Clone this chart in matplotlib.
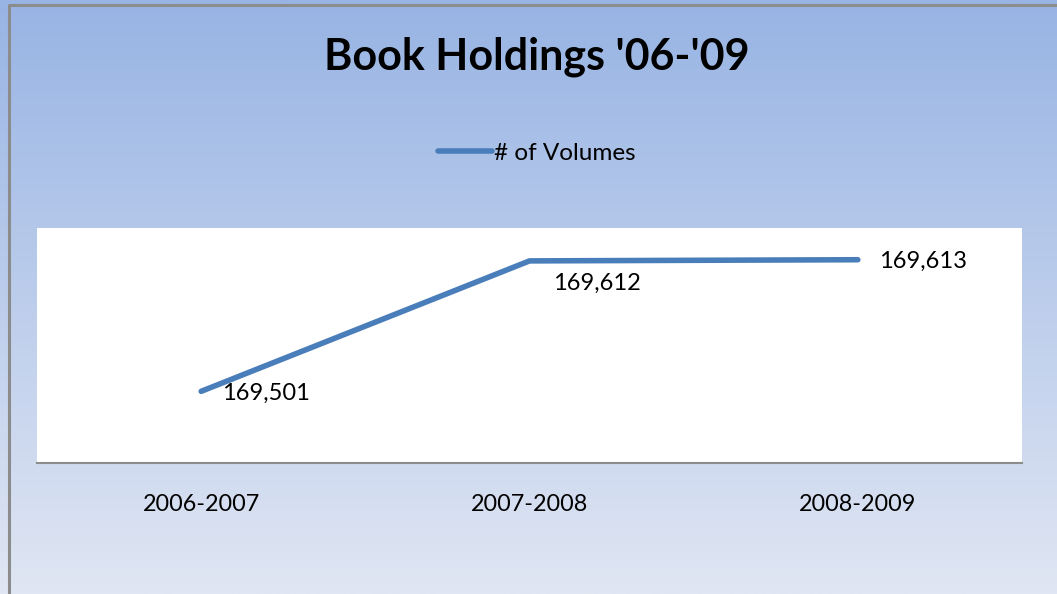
import numpy as np
import matplotlib.pyplot as plt

years = ["2006-2007", "2007-2008", "2008-2009"]
volumes = [169501, 169612, 169613]
label_offsets = [(21, -2), (24, -22), (21, -2)]  # pixels right/up from each point

W, H = 1057, 594
line_color = "#4a7ebb"
plt.rcParams["font.family"] = ["Lato", "DejaVu Sans"]

fig = plt.figure(figsize=(W / 100, H / 100), dpi=100)

# background gradient
bg = fig.add_axes([0, 0, 1, 1], zorder=-10)
grad = np.linspace(0, 1, 256)[:, None]
top = np.array([0x98, 0xb4, 0xe4]) / 255
bot = np.array([0xe0, 0xe6, 0xf3]) / 255
img = top + grad[..., None] * (bot - top)
bg.imshow(img, aspect="auto", extent=[0, W, H, 0])
bg.set_xlim(0, W)
bg.set_ylim(H, 0)
bg.axis("off")
bg.plot([9, 9, W + 5], [H + 5, 5, 5], color="#8c8c8c", lw=2.2, solid_capstyle="butt")

# plot area: x 37..1022, y 228..463
ax = fig.add_axes([37 / W, 1 - 463 / H, (1022 - 37) / W, (463 - 228) / H])
ax.set_facecolor("white")
x = np.arange(len(years))
ln, = ax.plot(x, volumes, color=line_color, lw=4, solid_capstyle="round", label="# of Volumes")
ax.set_xlim(-0.5, 2.5)
ax.set_ylim(169440, 169640)
ax.set_yticks([])
ax.set_xticks(x)
ax.set_xticklabels(years, fontsize=16.8)
ax.tick_params(axis="x", length=0, pad=22.5)
for s in ["top", "left", "right"]:
    ax.spines[s].set_visible(False)
ax.spines["bottom"].set_color("#8c8c8c")
ax.spines["bottom"].set_linewidth(1.5)

for xi, v, (dx, dy) in zip(x, volumes, label_offsets):
    ax.annotate(f"{v:,}", (xi, v), xytext=(dx * 0.72, dy * 0.72), textcoords="offset points",
                ha="left", va="center", fontsize=17)

fig.text(537 / W, 1 - 57 / H, "Book Holdings '06-'09", ha="center", va="center",
         fontsize=31, fontweight="bold")
fig.legend(handles=[ln], loc="center", bbox_to_anchor=(537 / W, 1 - 153 / H),
           frameon=False, fontsize=17.5, handlelength=2.2, handletextpad=0.1)

fig.savefig("out.png", dpi=100)
